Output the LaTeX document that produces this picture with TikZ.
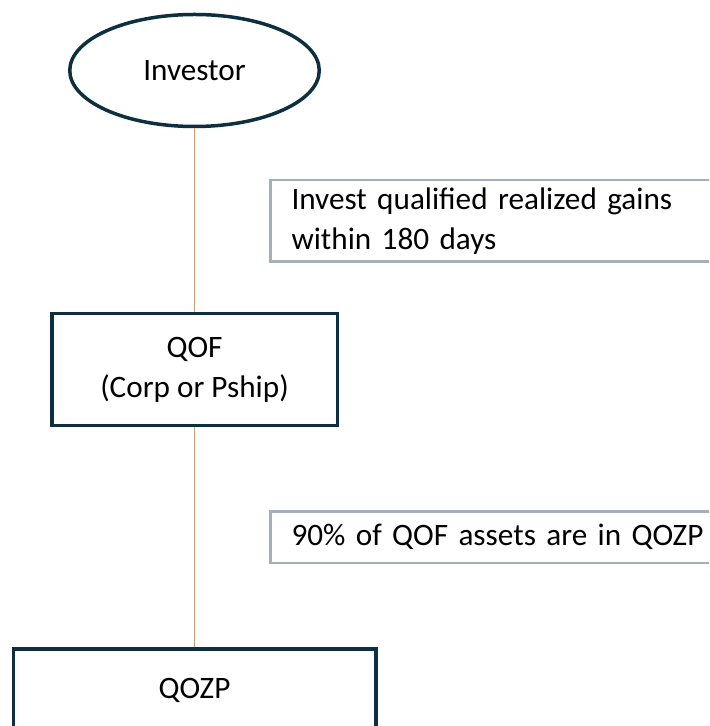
\documentclass[tikz,border=0pt]{standalone}
\usepackage{fontspec}
\setmainfont{Carlito}
\usetikzlibrary{shapes.geometric}
\definecolor{navy}{HTML}{0E2F40}
\definecolor{tan}{HTML}{C9A36B}
\definecolor{greyline}{HTML}{A5AFB9}
\begin{document}
\begin{tikzpicture}[
    x=0.5pt, y=-0.5pt,
    every node/.style={font=\fontsize{15.6}{20}\selectfont},
    entity/.style={draw=navy, line width=1.75pt, ellipse, minimum width=124.75pt, minimum height=56pt, inner sep=0pt},
    fundbox/.style={draw=navy, line width=1.75pt, rectangle, minimum width=142.75pt, minimum height=55.75pt, align=center},
    zonebox/.style={draw=navy, line width=1.75pt, rectangle, minimum width=181.25pt, minimum height=41.25pt},
    note/.style={draw=greyline, line width=1.25pt, rectangle, anchor=west, align=left, text width=220pt, inner xsep=10.5pt},
    link/.style={draw=tan, line width=0.75pt}
]
\useasboundingbox (0,0) rectangle (709,726);
\clip (0,0) rectangle (709,726);

\node[entity]  (inv)  at (194.5,70.5)  {Investor};
\node[fundbox] (qof)  at (194.5,369.5) {QOF\\(Corp or Pship)};
\node[zonebox] (qozp) at (194.5,690)   {QOZP};

% notes beside the links
\node[note, minimum height=40.75pt] (gains)  at (269.25,221) {Invest qualified realized gains\\within 180 days};
\node[note, minimum height=25.75pt] (assets) at (269.25,537) {90\% of QOF assets are in QOZP};

\begin{scope}[on background layer/.try]
\draw[link] (inv.south) -- (qof.north);
\draw[link] (qof.south) -- (qozp.north);
\end{scope}

\end{tikzpicture}
\end{document}
